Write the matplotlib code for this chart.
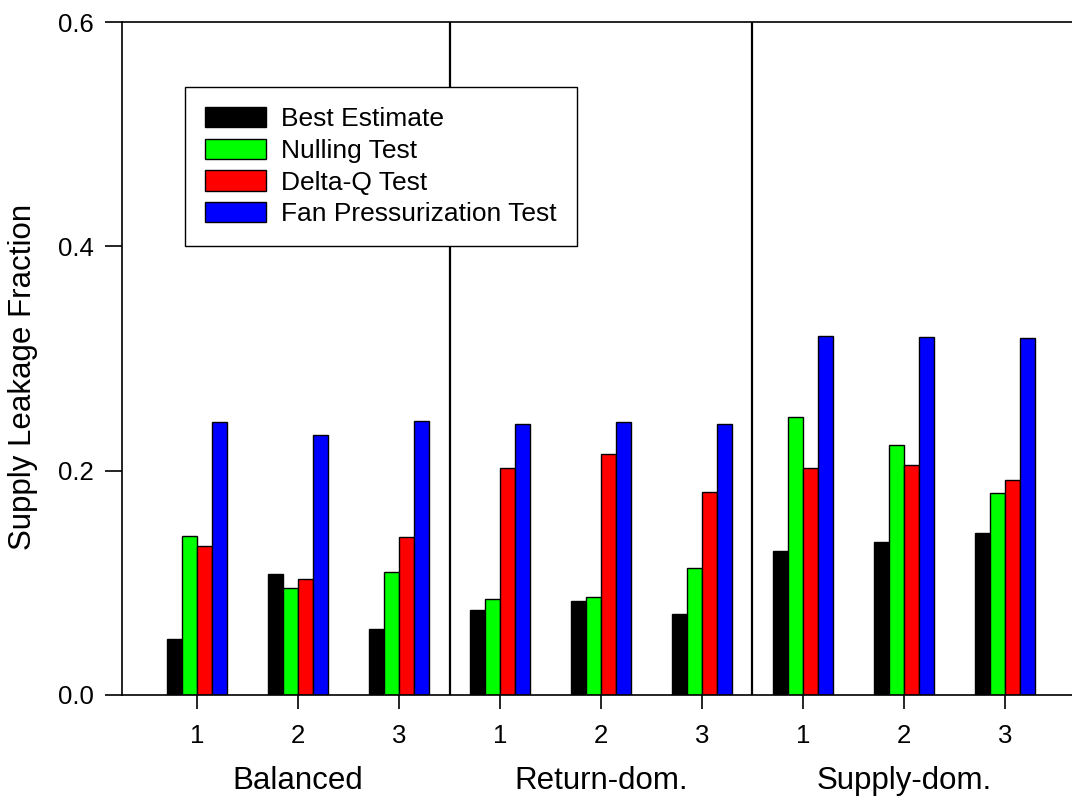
import matplotlib
matplotlib.use("Agg")
import matplotlib.pyplot as plt
import numpy as np

plt.rcParams['font.family'] = ['Liberation Sans', 'DejaVu Sans']

groups = ["Balanced", "Return-dom.", "Supply-dom."]
case_labels = ["1", "2", "3"] * 3
series_names = ["Best Estimate", "Nulling Test", "Delta-Q Test", "Fan Pressurization Test"]
colors = ["#000000", "#00ff00", "#ff0000", "#0000ff"]

best_estimate = [0.050, 0.108, 0.059, 0.076, 0.084, 0.072, 0.128, 0.136, 0.144]
nulling_test = [0.142, 0.095, 0.110, 0.086, 0.087, 0.113, 0.248, 0.223, 0.180]
delta_q_test = [0.133, 0.103, 0.141, 0.202, 0.215, 0.181, 0.202, 0.205, 0.192]
fan_press_test = [0.243, 0.232, 0.244, 0.242, 0.243, 0.242, 0.320, 0.319, 0.318]
series = [best_estimate, nulling_test, delta_q_test, fan_press_test]

fig = plt.figure(figsize=(10.72, 8.0), dpi=100)
ax = fig.add_axes([122/1072, 105/800, 958/1072, 673/800])

x = np.arange(len(case_labels))
w = 0.15
offsets = [-1.5*w, -0.5*w, 0.5*w, 1.5*w]
for vals, name, c, off in zip(series, series_names, colors, offsets):
    ax.bar(x + off, vals, width=w, color=c, edgecolor="black", linewidth=1.0, label=name)

ax.axvline(2.5, color="black", linewidth=1.6)
ax.axvline(5.5, color="black", linewidth=1.6)

ax.set_xlim(-0.745, 8.745)
ax.set_ylim(0, 0.6)
ax.set_yticks([0.0, 0.2, 0.4, 0.6])
ax.set_yticklabels(["0.0", "0.2", "0.4", "0.6"])
ax.set_xticks(x)
ax.set_xticklabels(case_labels)
ax.tick_params(axis='y', direction='out', length=12, width=1.2, labelsize=18.5, pad=8)
ax.tick_params(axis='x', direction='out', length=10, width=1.2, labelsize=18.5, pad=11)
for s in ax.spines.values():
    s.set_linewidth(1.2)

ax.text(-0.103, 0.472, "Supply Leakage Fraction", rotation=90, ha='center', va='center',
        fontsize=22.5, transform=ax.transAxes)

for i, g in enumerate(groups):
    ax.text(1 + 3*i, -0.0767, g, ha='center', va='center', fontsize=22.5,
            transform=ax.transData, clip_on=False)

leg = ax.legend(loc='upper left', bbox_to_anchor=(0.0658, 0.903), fontsize=19,
                frameon=True, fancybox=False, edgecolor='black', framealpha=1,
                handlelength=2.3, handleheight=0.8, handletextpad=0.6,
                labelspacing=0.28, borderpad=0.75, borderaxespad=0)
leg.get_frame().set_linewidth(1.0)

fig.savefig("out.png", dpi=100)
